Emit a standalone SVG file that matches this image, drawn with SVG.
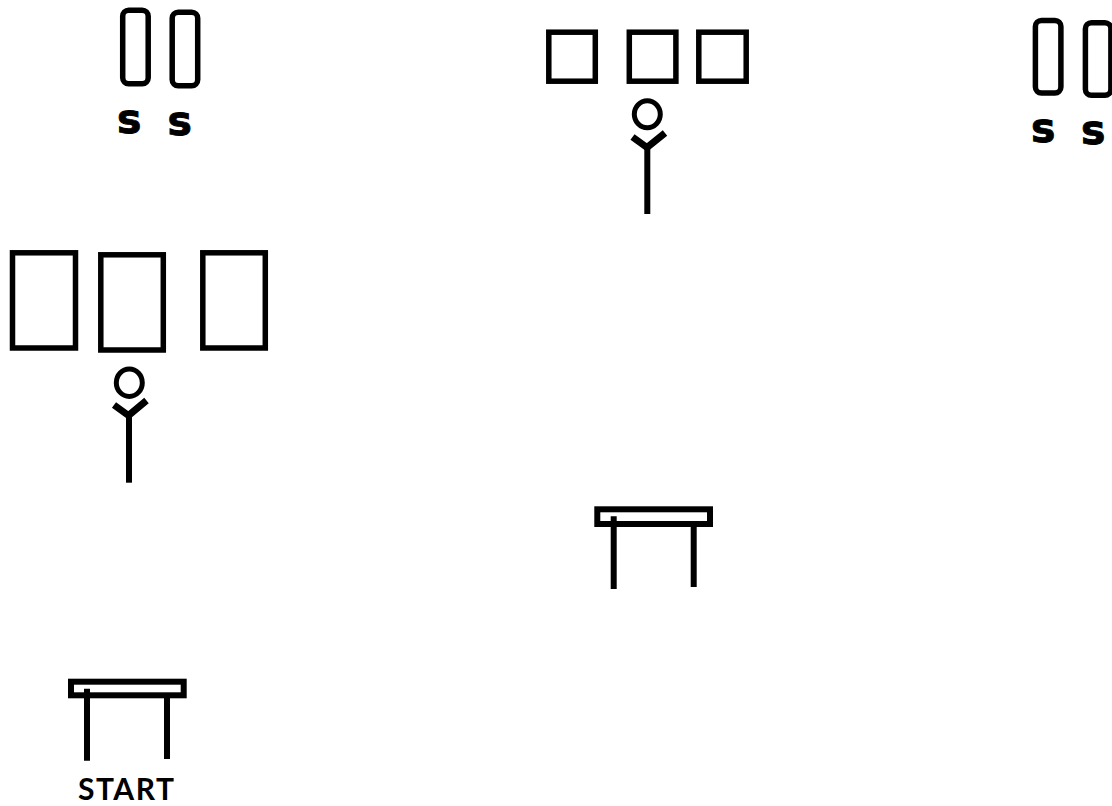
<svg xmlns="http://www.w3.org/2000/svg" width="1112" height="806" viewBox="0 0 1112 806">
<style>
.s{fill:none;stroke:#000;stroke-width:5.5;stroke-linejoin:miter}
.l{fill:none;stroke:#000;stroke-width:6}
.h{fill:none;stroke:#000;stroke-width:5}
.y{fill:none;stroke:#000;stroke-width:7;stroke-linejoin:round}
.t{font-family:"DejaVu Sans",sans-serif;font-weight:700;font-size:41px;fill:#000;stroke:#000;stroke-width:.9}
.st{font-family:Lato,"Liberation Sans",sans-serif;font-weight:700;font-size:30px;letter-spacing:1.5px;fill:#000}
</style>
<rect width="1112" height="806" fill="#fff"/>
<g id="seats-top-left">
<rect class="s" x="122.7" y="10.2" width="25.5" height="73.5" rx="6"/>
<rect class="s" x="172.2" y="12.2" width="25.5" height="73.5" rx="6"/>
<text class="t" x="117" y="132.5">s</text>
<text class="t" x="167.5" y="134.5">s</text>
</g>
<g id="seats-top-right">
<rect class="s" x="1035.4" y="20.4" width="25.5" height="72.6" rx="6"/>
<rect class="s" x="1085.4" y="22.7" width="25.5" height="72.6" rx="6"/>
<text class="t" x="1031" y="142">s</text>
<text class="t" x="1081" y="144">s</text>
</g>
<g id="counters-top">
<rect class="s" x="548.8" y="32.2" width="46.5" height="49"/>
<rect class="s" x="629.3" y="32.2" width="46.6" height="49"/>
<rect class="s" x="698.8" y="32.2" width="47.4" height="49"/>
</g>
<g id="person-top">
<ellipse class="h" cx="647.3" cy="114.2" rx="13" ry="13.5"/>
<path class="y" d="M632.5 137 L647 147.5 L665 133"/>
<path class="l" d="M647.3 146 V214"/>
</g>
<g id="counters-left">
<rect class="s" x="12.5" y="252.8" width="63" height="95.2"/>
<rect class="s" x="100.8" y="254.8" width="62.5" height="95.2"/>
<rect class="s" x="202.8" y="252.8" width="62.5" height="95.2"/>
</g>
<g id="person-left">
<ellipse class="h" cx="129.3" cy="382.7" rx="13" ry="13.7"/>
<path class="y" d="M114 405 L128.5 415.5 L146.5 400.5"/>
<path class="l" d="M129 414 V482.7"/>
</g>
<g id="table-middle">
<rect class="l" x="597.3" y="509.3" width="112.7" height="14.7"/>
<path class="l" d="M613.7 516.3 V589 M693.7 524 V587"/>
</g>
<g id="table-start">
<rect class="l" x="71" y="681.7" width="112.7" height="13.6"/>
<path class="l" d="M87 688.7 V760.7 M167 695 V759"/>
<text class="st" x="78" y="799.5">START</text>
</g>
</svg>
